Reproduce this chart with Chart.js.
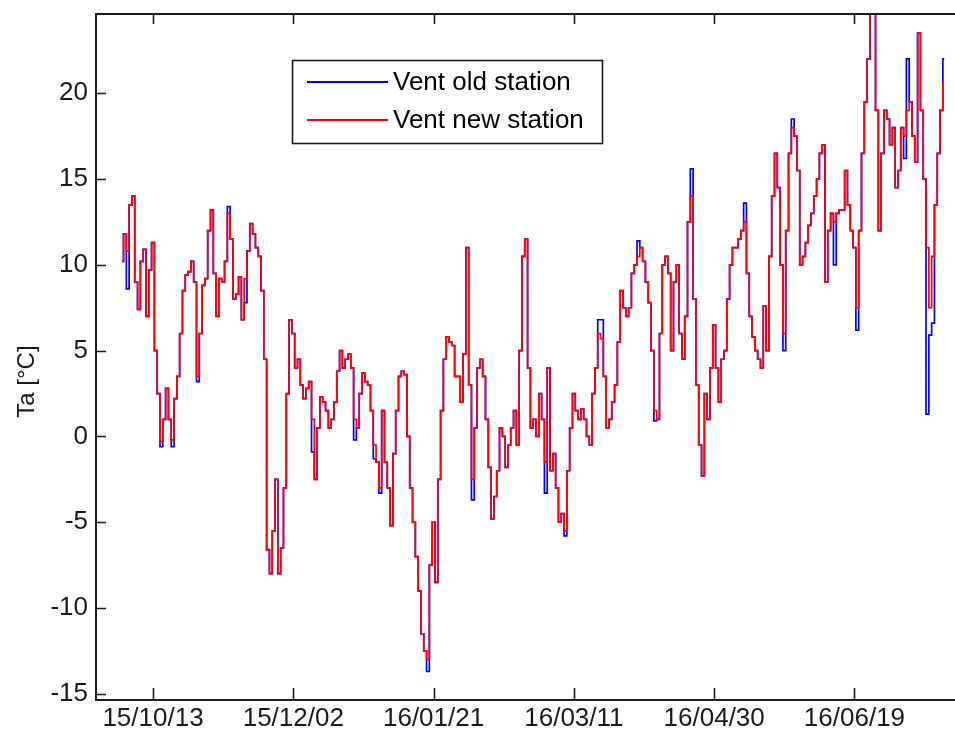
<!DOCTYPE html>
<html>
<head>
<meta charset="utf-8">
<script src="https://cdn.jsdelivr.net/npm/chart.js@4.4.1/dist/chart.umd.min.js"></script>
<style>
  html, body { margin: 0; padding: 0; background: #fff; overflow: hidden; width: 955px; height: 733px; }
  canvas { display: block; }
</style>
</head>
<body>
<canvas id="c" width="1000" height="733"></canvas>
<script>
// Daily air temperature, day numbers counted from 2015-10-01 (series start on day 1)
const firstDay = 1;

// Vent new station (red)
const ventNew = [
  10.2, 11.8, 10.8, 13.5, 14.0, 9.0, 7.4, 10.2, 10.9, 7.0,
  9.7, 11.3, 5.0, 2.5, -0.3, 1.0, 2.8, 1.0, -0.2, 2.2,
  3.5, 6.0, 8.5, 9.4, 9.6, 10.2, 9.0, 3.5, 6.0, 8.8,
  9.2, 12.0, 13.2, 9.5, 7.0, 9.2, 9.0, 10.2, 13.0, 11.5,
  8.0, 8.3, 9.3, 6.8, 9.2, 10.8, 12.4, 11.8, 11.0, 10.5,
  8.5, 4.5, -6.6, -8.0, -5.5, -2.5, -8.0, -6.5, -3.0, 2.5,
  6.8, 6.0, 4.0, 4.5, 3.0, 2.2, 2.8, 3.2, 1.0, -2.5,
  0.5, 2.3, 2.0, 1.5, 0.5, 1.0, 2.0, 3.8, 5.0, 4.0,
  4.5, 4.8, 4.0, 1.0, 0.5, 2.5, 3.7, 3.2, 3.0, 1.5,
  -0.5, -1.5, -3.0, 1.5, -1.5, -3.0, -5.2, -1.0, 1.5, 3.5,
  3.8, 3.6, 0.0, -3.0, -5.0, -7.0, -9.0, -11.5, -12.5, -13.0,
  -7.5, -5.0, -8.5, -2.5, 1.5, 4.5, 5.8, 5.5, 5.3, 3.5,
  3.5, 2.0, 4.8, 11.0, 3.0, -2.5, 0.5, 4.0, 4.5, 3.5,
  1.0, -1.8, -4.8, -3.5, -2.0, 0.5, 0.0, -1.8, -0.5, 0.5,
  1.5, -0.5, 5.0, 10.5, 11.5, 4.0, 0.5, 1.0, 0.0, 2.5,
  1.0, -1.5, 4.0, -2.0, -1.0, -3.0, -5.0, -4.5, -5.5, -2.0,
  0.5, 2.5, 1.5, 1.0, 1.6, 1.0, 0.0, -0.5, 2.5, 4.0,
  6.0, 5.7, 3.5, 0.5, 1.0, 2.0, 3.0, 5.5, 8.5, 7.5,
  7.0, 7.5, 9.5, 10.0, 10.5, 11.0, 10.2, 9.0, 7.8, 5.0,
  1.5, 1.0, 6.0, 10.0, 10.5, 9.5, 5.0, 9.0, 10.0, 6.0,
  4.5, 7.0, 12.5, 14.0, 8.0, 3.0, -0.5, -2.3, 2.5, 1.0,
  4.0, 6.5, 4.0, 2.0, 4.5, 5.0, 8.0, 10.0, 11.0, 11.0,
  11.5, 12.0, 12.5, 9.5, 7.0, 5.8, 5.0, 4.5, 4.0, 7.6,
  5.0, 10.5, 14.0, 16.5, 14.5, 10.0, 6.0, 12.0, 16.5, 18.0,
  17.5, 15.5, 10.0, 10.5, 11.3, 12.3, 13.0, 14.0, 15.0, 16.5,
  17.0, 9.0, 12.0, 13.0, 12.5, 13.0, 13.2, 13.2, 15.5, 13.5,
  12.0, 11.0, 7.5, 12.0, 16.5, 19.5, 22.0, 25.0, 25.0, 19.0,
  12.0, 16.5, 19.0, 18.5, 17.0, 18.0, 14.5, 15.5, 18.0, 17.5,
  19.0, 19.5, 17.5, 16.0, 23.5, 19.0, 15.0, 11.0, 7.5, 10.5,
  13.5, 16.5, 19.0, 20.6
];

// Vent old station (blue)
const ventOld = [
  10.2, 11.8, 8.6, 13.5, 14.0, 9.0, 7.4, 10.2, 10.9, 7.0,
  9.7, 11.3, 5.0, 2.5, -0.6, 1.0, 2.8, 1.0, -0.6, 2.2,
  3.5, 6.0, 8.5, 9.4, 9.6, 10.2, 9.0, 3.2, 6.0, 8.8,
  9.2, 12.0, 13.2, 9.5, 7.0, 9.2, 9.0, 10.2, 13.4, 11.5,
  8.0, 8.3, 9.3, 6.8, 7.8, 10.8, 12.4, 11.8, 11.0, 10.5,
  8.5, 4.5, -6.6, -8.0, -5.5, -2.5, -8.0, -6.5, -3.0, 2.5,
  6.8, 6.0, 4.0, 4.5, 3.0, 2.2, 2.8, 3.2, -0.9, -2.5,
  0.5, 2.3, 2.0, 1.5, 0.5, 1.0, 2.0, 3.8, 5.0, 4.0,
  4.5, 4.8, 4.0, -0.2, 0.5, 2.5, 3.7, 3.2, 3.0, 1.5,
  -1.3, -1.5, -3.3, 1.5, -1.5, -3.0, -5.2, -1.0, 1.5, 3.5,
  3.8, 3.6, 0.0, -3.0, -5.0, -7.0, -9.0, -11.5, -12.5, -13.7,
  -7.5, -5.0, -8.5, -2.5, 1.5, 4.5, 5.8, 5.5, 5.3, 3.5,
  3.5, 2.0, 4.8, 11.0, 3.0, -3.7, 0.5, 4.0, 4.5, 3.5,
  1.0, -1.8, -4.8, -3.5, -2.0, 0.5, 0.0, -1.8, -0.5, 0.5,
  1.5, -0.5, 5.0, 10.5, 11.5, 4.0, 0.5, 1.0, 0.0, 2.5,
  1.0, -3.3, 4.0, -2.0, -1.0, -3.0, -5.0, -4.5, -5.8, -2.0,
  0.5, 2.5, 1.5, 1.0, 1.6, 1.0, 0.0, -0.5, 2.5, 4.0,
  6.8, 6.8, 3.5, 0.5, 1.0, 2.0, 3.0, 5.5, 8.5, 7.5,
  7.0, 7.5, 9.5, 10.0, 11.4, 11.0, 10.2, 9.0, 7.8, 5.0,
  0.9, 1.0, 6.0, 10.0, 10.5, 9.5, 5.0, 9.0, 10.0, 6.0,
  4.5, 7.0, 12.5, 15.6, 8.0, 3.0, -0.5, -2.3, 2.5, 1.0,
  4.0, 6.5, 4.0, 2.0, 4.5, 5.0, 8.0, 10.0, 11.0, 11.0,
  11.5, 12.0, 13.6, 9.5, 7.0, 5.8, 5.0, 4.5, 4.0, 7.6,
  5.0, 10.5, 14.0, 16.5, 14.5, 10.0, 5.0, 12.0, 16.5, 18.5,
  17.5, 15.5, 10.0, 10.5, 11.3, 12.3, 13.0, 14.0, 15.0, 16.5,
  17.0, 9.0, 12.0, 13.0, 10.0, 13.0, 13.2, 13.2, 15.5, 13.5,
  12.0, 11.0, 6.2, 12.0, 16.5, 19.5, 22.0, 25.0, 25.0, 19.0,
  12.0, 16.5, 19.0, 18.5, 17.0, 18.0, 14.5, 15.5, 18.0, 16.2,
  22.0, 19.5, 17.5, 16.0, 23.5, 19.0, 15.0, 1.3, 5.9, 6.6,
  13.5, 16.5, 19.0, 22.0
];

// Date ticks on the time axis (day numbers) and their labels
const tickDays = [12, 62, 112, 162, 212, 262];
const tickLabels = ['15/10/13', '15/12/02', '16/01/21', '16/03/11', '16/04/30', '16/06/19'];

// Temperature ticks
const yTicks = [-15, -10, -5, 0, 5, 10, 15, 20];

const seriesNames = ['Vent old station', 'Vent new station'];
const seriesColors = ['#0000ff', '#ff0000'];
const yAxisTitle = 'Ta [°C]';

const FONT = "'Liberation Sans', Arial, Helvetica, sans-serif";
const INK = '#1a1a1a';

const toPoints = arr => arr.map((v, k) => ({ x: firstDay + k, y: v }));

// Axes box with inward tick marks, the rotated axis title and the boxed legend
const boxPlugin = {
  id: 'box',
  afterDraw(chart) {
    const { ctx, chartArea: a, scales } = chart;
    const x = scales.x, y = scales.y;
    ctx.save();
    ctx.strokeStyle = INK;
    ctx.lineWidth = 2;
    ctx.strokeRect(a.left, a.top, a.right - a.left, a.bottom - a.top);
    ctx.beginPath();
    x.ticks.forEach(t => {
      const px = Math.round(x.getPixelForValue(t.value)) + 0.5;
      ctx.moveTo(px, a.bottom); ctx.lineTo(px, a.bottom - 12);
      ctx.moveTo(px, a.top); ctx.lineTo(px, a.top + 10);
    });
    y.ticks.forEach(t => {
      const py = Math.round(y.getPixelForValue(t.value)) + 0.5;
      ctx.moveTo(a.left, py); ctx.lineTo(a.left + 10, py);
      ctx.moveTo(a.right, py); ctx.lineTo(a.right - 10, py);
    });
    ctx.lineWidth = 1.6;
    ctx.stroke();

    // y-axis title, set a little below the middle of the axis
    ctx.save();
    ctx.translate(27, y.getPixelForValue(3.2));
    ctx.rotate(-Math.PI / 2);
    ctx.font = '24px ' + FONT;
    ctx.fillStyle = INK;
    ctx.textAlign = 'center';
    ctx.textBaseline = 'middle';
    ctx.fillText(yAxisTitle, 0, 0);
    ctx.restore();

    // legend
    const lx = 292, ly = 60, lw = 310, lh = 83;
    ctx.fillStyle = '#fff';
    ctx.fillRect(lx, ly, lw, lh);
    ctx.lineWidth = 1.6;
    ctx.strokeStyle = INK;
    ctx.strokeRect(lx + 0.5, ly + 0.5, lw, lh);
    ctx.font = '26px ' + FONT;
    ctx.textBaseline = 'middle';
    ctx.textAlign = 'left';
    chart.data.datasets.forEach((ds, k) => {
      const yy = ly + 22 + k * 38;
      ctx.strokeStyle = ds.borderColor;
      ctx.lineWidth = 2;
      ctx.beginPath();
      ctx.moveTo(lx + 15, yy); ctx.lineTo(lx + 96, yy);
      ctx.stroke();
      ctx.fillStyle = '#000';
      ctx.fillText(ds.label, lx + 101, yy + 1);
    });
    ctx.restore();
  }
};

new Chart(document.getElementById('c'), {
  type: 'line',
  data: {
    datasets: [
      {
        label: seriesNames[0],
        data: toPoints(ventOld),
        borderColor: seriesColors[0],
        borderWidth: 1.7,
        pointRadius: 0,
        stepped: 'middle',
        order: 1
      },
      {
        label: seriesNames[1],
        data: toPoints(ventNew),
        borderColor: seriesColors[1],
        borderWidth: 1.7,
        pointRadius: 0,
        stepped: 'middle',
        order: 0
      }
    ]
  },
  options: {
    responsive: false,
    animation: false,
    devicePixelRatio: 1,
    layout: { padding: { top: 14, right: 10, left: 0, bottom: 0 } },
    plugins: { legend: { display: false }, tooltip: { enabled: false } },
    scales: {
      x: {
        type: 'linear',
        min: -8.31,
        max: 310.3,
        grid: { display: false, drawTicks: false },
        border: { display: false },
        afterBuildTicks: s => { s.ticks = tickDays.map(v => ({ value: v })); },
        afterFit: s => { s.height = 33; s.paddingLeft = 0; s.paddingRight = 0; },
        ticks: {
          autoSkip: false,
          maxRotation: 0,
          padding: 3,
          color: INK,
          font: { family: FONT, size: 26 },
          callback: v => tickLabels[tickDays.indexOf(v)]
        }
      },
      y: {
        min: -15.36,
        max: 24.62,
        grid: { display: false, drawTicks: false },
        border: { display: false },
        afterBuildTicks: s => { s.ticks = yTicks.map(v => ({ value: v })); },
        afterFit: s => { s.width = 96; s.paddingTop = 0; s.paddingBottom = 0; },
        ticks: {
          padding: 8,
          color: INK,
          font: { family: FONT, size: 26 },
          callback: v => String(v)
        }
      }
    }
  },
  plugins: [boxPlugin]
});
</script>
</body>
</html>
